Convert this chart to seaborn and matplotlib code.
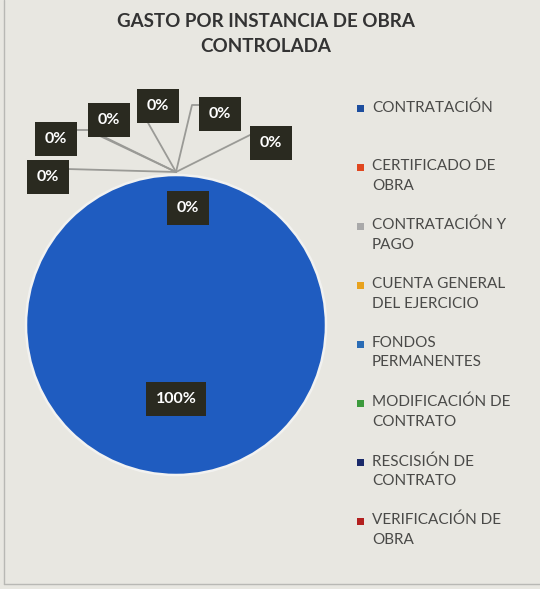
import matplotlib
matplotlib.use("Agg")
import matplotlib.pyplot as plt
from matplotlib.patches import Rectangle, Circle
import seaborn as sns

# ---- data ----
categories = [
    "CONTRATACIÓN",
    "CERTIFICADO DE\nOBRA",
    "CONTRATACIÓN Y\nPAGO",
    "CUENTA GENERAL\nDEL EJERCICIO",
    "FONDOS\nPERMANENTES",
    "MODIFICACIÓN DE\nCONTRATO",
    "RESCISIÓN DE\nCONTRATO",
    "VERIFICACIÓN DE\nOBRA",
]
values = [100, 0, 0, 0, 0, 0, 0, 0]
slice_colors = ["#1f5cc0", "#e0471f", "#a9a9a9", "#e8a21e",
                "#2a6cb5", "#3c9a3c", "#1a2a6a", "#b3201f"]
legend_colors = ["#1d4e9e", "#e0471f", "#a9a9a9", "#e8a21e",
                 "#2a6cb5", "#3c9a3c", "#1a2a6a", "#b3201f"]
title = "GASTO POR INSTANCIA DE OBRA\nCONTROLADA"

sns.set_theme(style="white")
plt.rcParams["font.family"] = ["Lato", "DejaVu Sans"]

W, H = 540, 589
BG = "#e8e7e1"
fig = plt.figure(figsize=(W / 100, H / 100), dpi=100, facecolor=BG)
ax = fig.add_axes([0, 0, 1, 1])
ax.set_facecolor(BG)

# pixel geometry of pie
CX, CY, R = 176, 325, 150


def px(x, y):
    return (x - CX) / R, (CY - y) / R


wedges, _ = ax.pie(values, colors=slice_colors, startangle=90, counterclock=False,
                   radius=1.0, center=(0, 0),
                   wedgeprops=dict(edgecolor="none", linewidth=0))
ax.add_patch(Circle((0, 0), 1.0, fill=False, ec="#f2f2f0", lw=1.8, zorder=2))
ax.set_xlim(-CX / R, (W - CX) / R)
ax.set_ylim((CY - H) / R, CY / R)
ax.set_aspect("equal")
ax.axis("off")

# label placement (pixels) per category; inside labels have no leader
label_pos = [(176, 399), (48, 177), (56, 139), (109, 120), (158, 106),
             (220, 114), (271, 143), (188, 208)]
leaders = [None,
           [(67, 169)],
           [(76, 130), (90, 130)],
           [(100, 136)],
           [(147, 121)],
           [(202, 105), (192, 105)],
           [(252, 134)],
           None]
conv = (176, 172)

total = sum(values)
for i, v in enumerate(values):
    pct = v / total * 100
    lx, ly = px(*label_pos[i])
    if leaders[i] is not None:
        pts = [px(*p) for p in leaders[i]] + [px(*conv)]
        ax.plot([p[0] for p in pts], [p[1] for p in pts], color="#9a9a96",
                lw=1.3, zorder=3)
    ax.text(lx, ly, f"{pct:.0f}%", ha="center", va="center", color="white",
            fontsize=11.5, fontweight="bold", zorder=5,
            bbox=dict(boxstyle="square,pad=0.6", fc="#2a2a20", ec="none"))

# title
fig.text(266 / W, 1 - 34 / H, title, ha="center", va="center", fontsize=13.5,
         fontweight="bold", color="#333333", linespacing=1.55)

# legend (manual, Excel-like slots)
for i, (lab, col) in enumerate(zip(categories, legend_colors)):
    y = 108 + i * 59.0
    fig.patches.append(Rectangle((357 / W, 1 - (y + 4) / H), 7 / W, 7 / H,
                                 transform=fig.transFigure, fc=col, ec="none"))
    fig.text(372 / W, 1 - (y - 8) / H, lab, ha="left", va="top", fontsize=11,
             color="#4a4a48", linespacing=1.5)

# faint frame lines
fig.lines.append(plt.Line2D([4 / W, 4 / W], [1 - 584 / H, 1], transform=fig.transFigure,
                            color="#b8b8b4", lw=1))
fig.lines.append(plt.Line2D([4 / W, 1], [1 - 584 / H, 1 - 584 / H],
                            transform=fig.transFigure, color="#b8b8b4", lw=1))

fig.savefig("out.png", dpi=100, facecolor=BG)
